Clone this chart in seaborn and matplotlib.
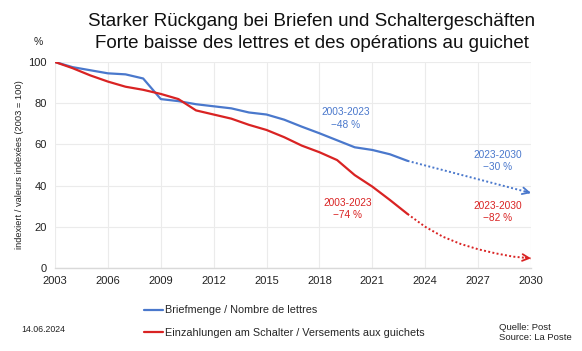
import matplotlib
matplotlib.use("Agg")
import matplotlib.pyplot as plt
import seaborn as sns
import pandas as pd
from matplotlib.lines import Line2D

# ---- data ----
years = list(range(2003, 2024))
letters = [100, 97.5, 96, 94.5, 94, 92, 82, 81, 79.5, 78.5, 77.5, 75.5, 74.5,
           72, 68.6, 65.4, 62, 58.6, 57.3, 55.2, 52]
counter = [100, 97, 93.5, 90.5, 88, 86.5, 84.5, 82, 76.5, 74.5, 72.5, 69.5, 67,
           63.5, 59.4, 56.2, 52.4, 45.1, 39.5, 33, 26.2]
proj_years_letters = [2023, 2030]
proj_letters = [52, 36.4]
proj_years_counter = [2023, 2024, 2025, 2026, 2027, 2028, 2029, 2030]
proj_counter = [26.2, 20, 15.2, 11.7, 9.1, 7.1, 5.5, 4.7]
xticks = list(range(2003, 2031, 3))
yticks = [0, 20, 40, 60, 80, 100]

label_letters = "Briefmenge / Nombre de lettres"
label_counter = "Einzahlungen am Schalter / Versements aux guichets"

BLUE = "#4a78cc"
RED = "#d92323"
FONT = ["Liberation Sans", "DejaVu Sans"]

sns.set_theme(style="white")
plt.rcParams["font.family"] = FONT

fig = plt.figure(figsize=(5.82, 3.51), dpi=100)
ax = fig.add_axes([55/582, 1-268/351, (531-55)/582, (268-62)/351])

hist = pd.DataFrame({"year": years, "letters": letters, "counter": counter})
sns.lineplot(data=hist, x="year", y="letters", color=BLUE, lw=1.6, ax=ax)
sns.lineplot(data=hist, x="year", y="counter", color=RED, lw=1.6, ax=ax)
sns.lineplot(x=proj_years_letters, y=proj_letters, color=BLUE, lw=1.4,
             linestyle=(0, (1, 1.2)), ax=ax)
sns.lineplot(x=proj_years_counter, y=proj_counter, color=RED, lw=1.4,
             linestyle=(0, (1, 1.2)), ax=ax)

# arrow heads
for xs, ys, c in [(proj_years_letters, proj_letters, BLUE),
                  (proj_years_counter, proj_counter, RED)]:
    x0 = xs[-1] - 0.3
    y0 = ys[-1] + (ys[-2] - ys[-1]) * 0.3 / (xs[-1] - xs[-2])
    ax.annotate("", xy=(xs[-1], ys[-1]), xytext=(x0, y0),
                arrowprops=dict(arrowstyle="->", color=c, lw=1.3,
                                mutation_scale=12, shrinkA=0, shrinkB=0),
                annotation_clip=False)

ax.set_xlim(2003, 2030)
ax.set_ylim(0, 100)
ax.set_xticks(xticks)
ax.set_yticks(yticks)
ax.tick_params(axis="both", labelsize=8, length=0, colors="#222222")
ax.tick_params(axis="x", pad=6)
ax.tick_params(axis="y", pad=6)
ax.grid(True, color="#ebebeb", lw=0.8)
for s in ["top", "right", "left"]:
    ax.spines[s].set_visible(False)
ax.spines["bottom"].set_color("#d9d9d9")
ax.spines["bottom"].set_linewidth(1.0)
ax.set_xlabel("")
ax.set_ylabel("indexiert / valeurs indexées (2003 = 100)", fontsize=6.7,
              color="#222222", labelpad=3)

# annotations
ax.text(2019.5, 72.5, "2003-2023\n\u221248 %", color=BLUE, fontsize=7.3,
        ha="center", va="center", linespacing=1.3)
ax.text(2028.13, 52, "2023-2030\n\u221230 %", color=BLUE, fontsize=7.3,
        ha="center", va="center", linespacing=1.3)
ax.text(2019.6, 28.5, "2003-2023\n\u221274 %", color=RED, fontsize=7.3,
        ha="center", va="center", linespacing=1.3)
ax.text(2028.13, 27.3, "2023-2030\n\u221282 %", color=RED, fontsize=7.3,
        ha="center", va="center", linespacing=1.3)

# titles
fig.text(312/582, 1-22/351, "Starker Rückgang bei Briefen und Schaltergeschäften",
         ha="center", va="center", fontsize=13.5, color="#111111")
fig.text(312/582, 1-43/351, "Forte baisse des lettres et des opérations au guichet",
         ha="center", va="center", fontsize=13.5, color="#111111")
fig.text(38/582, 1-42/351, "%", ha="center", va="center", fontsize=7.5,
         color="#222222")

# legend
handles = [Line2D([], [], color=BLUE, lw=1.6), Line2D([], [], color=RED, lw=1.6)]
fig.legend(handles, [label_letters, label_counter], loc="center left",
           bbox_to_anchor=(144/582, 1-321.5/351), frameon=False, fontsize=7.8,
           handlelength=1.76, handletextpad=0.2, labelspacing=1.13,
           borderaxespad=0, borderpad=0)

fig.text(21/582, 1-329/351, "14.06.2024", ha="left", va="center", fontsize=6.3,
         color="#222222")
fig.text(499/582, 1-332.5/351, "Quelle: Post\nSource: La Poste", ha="left",
         va="center", fontsize=6.8, color="#222222", linespacing=1.0)

fig.savefig("out.png", dpi=100)
